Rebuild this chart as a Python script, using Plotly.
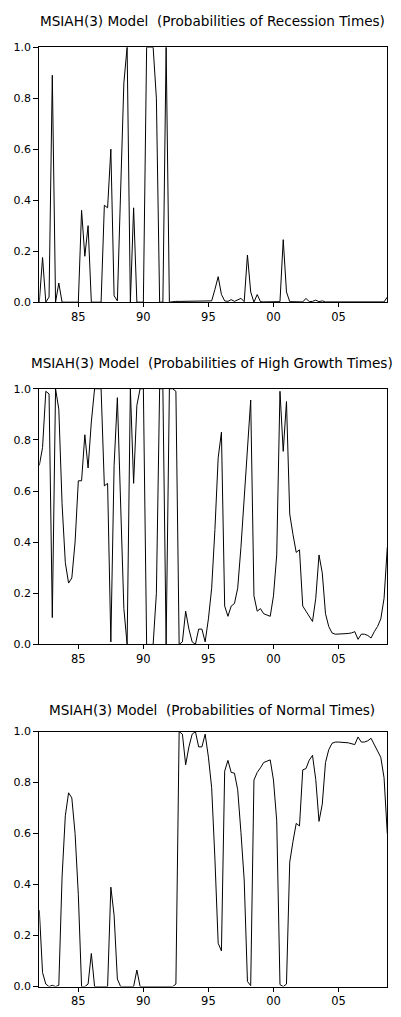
import plotly.graph_objects as go

# Quarterly observations 1982Q1 .. 2008Q4
start_year = 1982
n_obs = 108
dates = [start_year + i / 4 for i in range(n_obs)]

tick_years = [1985, 1990, 1995, 2000, 2005]
tick_labels = ["85", "90", "95", "00", "05"]
y_ticks = [0.0, 0.2, 0.4, 0.6, 0.8, 1.0]
y_tick_labels = ["0.0", "0.2", "0.4", "0.6", "0.8", "1.0"]

titles = [
    "MSIAH(3) Model  (Probabilities of Recession Times)",
    "MSIAH(3) Model  (Probabilities of High Growth Times)",
    "MSIAH(3) Model  (Probabilities of Normal Times)",
]

recession = [
    0.0, 0.175, 0.0, 0.02, 0.89, 0.0, 0.075, 0.0, 0.0, 0.0,
    0.0, 0.0, 0.0, 0.36, 0.18, 0.30, 0.0, 0.0, 0.0, 0.0,
    0.38, 0.37, 0.60, 0.025, 0.005, 0.42, 0.86, 1.0, 0.0, 0.37,
    0.0, 0.0, 0.0, 1.0, 1.0, 1.0, 0.80, 0.0, 0.0, 1.0,
    0.0, 0.003, 0.003, 0.003, 0.003, 0.003, 0.003, 0.003, 0.003, 0.003,
    0.003, 0.003, 0.003, 0.005, 0.05, 0.10, 0.03, 0.005, 0.003, 0.01,
    0.003, 0.008, 0.015, 0.002, 0.185, 0.04, 0.0, 0.03, 0.002, 0.001,
    0.001, 0.001, 0.001, 0.001, 0.002, 0.245, 0.04, 0.002, 0.001, 0.001,
    0.001, 0.001, 0.015, 0.002, 0.003, 0.008, 0.002, 0.005, 0.001, 0.001,
    0.001, 0.001, 0.001, 0.001, 0.001, 0.001, 0.001, 0.001, 0.001, 0.001,
    0.001, 0.001, 0.001, 0.001, 0.001, 0.001, 0.001, 0.02,
]

high_growth = [
    0.70, 0.77, 0.99, 0.98, 0.105, 1.0, 0.92, 0.55, 0.32, 0.24,
    0.26, 0.40, 0.64, 0.64, 0.82, 0.69, 0.87, 1.0, 1.0, 1.0,
    0.62, 0.63, 0.01, 0.70, 0.965, 0.58, 0.14, 0.0, 1.0, 0.63,
    0.935, 1.0, 1.0, 0.0, 0.0, 0.0, 0.20, 1.0, 1.0, 0.0,
    1.0, 1.0, 0.99, 0.0, 0.01, 0.13, 0.06, 0.01, 0.0, 0.06,
    0.06, 0.01, 0.10, 0.22, 0.45, 0.73, 0.83, 0.15, 0.11, 0.15,
    0.16, 0.22, 0.38, 0.58, 0.795, 0.956, 0.19, 0.13, 0.14, 0.12,
    0.115, 0.11, 0.19, 0.35, 0.99, 0.755, 0.95, 0.51, 0.43, 0.36,
    0.37, 0.15, 0.13, 0.11, 0.09, 0.18, 0.35, 0.28, 0.12, 0.07,
    0.045, 0.04, 0.04, 0.04, 0.042, 0.043, 0.045, 0.05, 0.02, 0.04,
    0.04, 0.035, 0.025, 0.05, 0.07, 0.10, 0.18, 0.38,
]

normal = [
    0.30, 0.055, 0.01, 0.0, 0.005, 0.0, 0.005, 0.43, 0.67, 0.76,
    0.74, 0.60, 0.36, 0.0, 0.0, 0.01, 0.13, 0.0, 0.0, 0.0,
    0.0, 0.0, 0.39, 0.28, 0.03, 0.0, 0.0, 0.0, 0.0, 0.0,
    0.065, 0.0, 0.0, 0.0, 0.0, 0.0, 0.0, 0.0, 0.0, 0.0,
    0.0, 0.0, 0.01, 1.0, 0.99, 0.87, 0.94, 0.99, 1.0, 0.94,
    0.94, 0.99, 0.90, 0.78, 0.50, 0.17, 0.14, 0.845, 0.887, 0.84,
    0.837, 0.772, 0.605, 0.418, 0.02, 0.004, 0.81, 0.84, 0.858, 0.879,
    0.884, 0.889, 0.81, 0.65, 0.008, 0.0, 0.01, 0.488, 0.569, 0.64,
    0.63, 0.85, 0.855, 0.888, 0.907, 0.812, 0.648, 0.715, 0.879, 0.929,
    0.954, 0.959, 0.959, 0.959, 0.957, 0.956, 0.954, 0.949, 0.979, 0.959,
    0.959, 0.964, 0.974, 0.949, 0.929, 0.899, 0.819, 0.60,
]

series = [recession, high_growth, normal]

W, H = 401, 1017
plot_left, plot_right = 39.3, 387.3
panel_px = [(41.7, 300.0), (387.7, 646.7), (735.0, 993.3)]  # (top, bottom) in px
title_px = [15.5, 361.7, 713.3]

FONT = "DejaVu Sans"

fig = go.Figure()
layout = dict(
    width=W, height=H,
    margin=dict(l=0, r=0, t=0, b=0),
    paper_bgcolor="white", plot_bgcolor="white",
    showlegend=False,
    annotations=[],
)

for k, vals in enumerate(series):
    sfx = "" if k == 0 else str(k + 1)
    fig.add_trace(go.Scatter(
        x=dates, y=vals, mode="lines",
        line=dict(color="black", width=1),
        xaxis="x" + sfx, yaxis="y" + sfx,
        hoverinfo="skip",
    ))
    top, bot = panel_px[k]
    layout["xaxis" + sfx] = dict(
        domain=[plot_left / W, plot_right / W],
        range=[dates[0], dates[-1]],
        anchor="y" + sfx,
        tickmode="array", tickvals=tick_years, ticktext=tick_labels,
        ticks="outside", ticklen=4, tickwidth=1, tickcolor="black",
        showline=True, linecolor="black", linewidth=1, mirror=True,
        showgrid=False, zeroline=False,
        tickfont=dict(family=FONT, size=11.5, color="black"),
        fixedrange=True,
    )
    layout["yaxis" + sfx] = dict(
        domain=[1 - bot / H, 1 - top / H],
        range=[0, 1],
        anchor="x" + sfx,
        tickmode="array", tickvals=y_ticks, ticktext=y_tick_labels,
        ticks="outside", ticklen=5, tickwidth=1, tickcolor="black",
        showline=True, linecolor="black", linewidth=1, mirror=True,
        showgrid=False, zeroline=False,
        tickfont=dict(family=FONT, size=11, color="black"),
        fixedrange=True,
    )
    layout["annotations"].append(dict(
        text=titles[k], xref="paper", yref="paper",
        x=212 / W, y=1 - title_px[k] / H,
        xanchor="center", yanchor="middle", showarrow=False,
        font=dict(family=FONT, size=13.6, color="black"),
    ))

fig.update_layout(**layout)
fig.write_html(
    "out.html",
    config={"displayModeBar": False, "staticPlot": True},
    post_script="document.body.style.margin='0';document.body.style.overflow='hidden';",
)
